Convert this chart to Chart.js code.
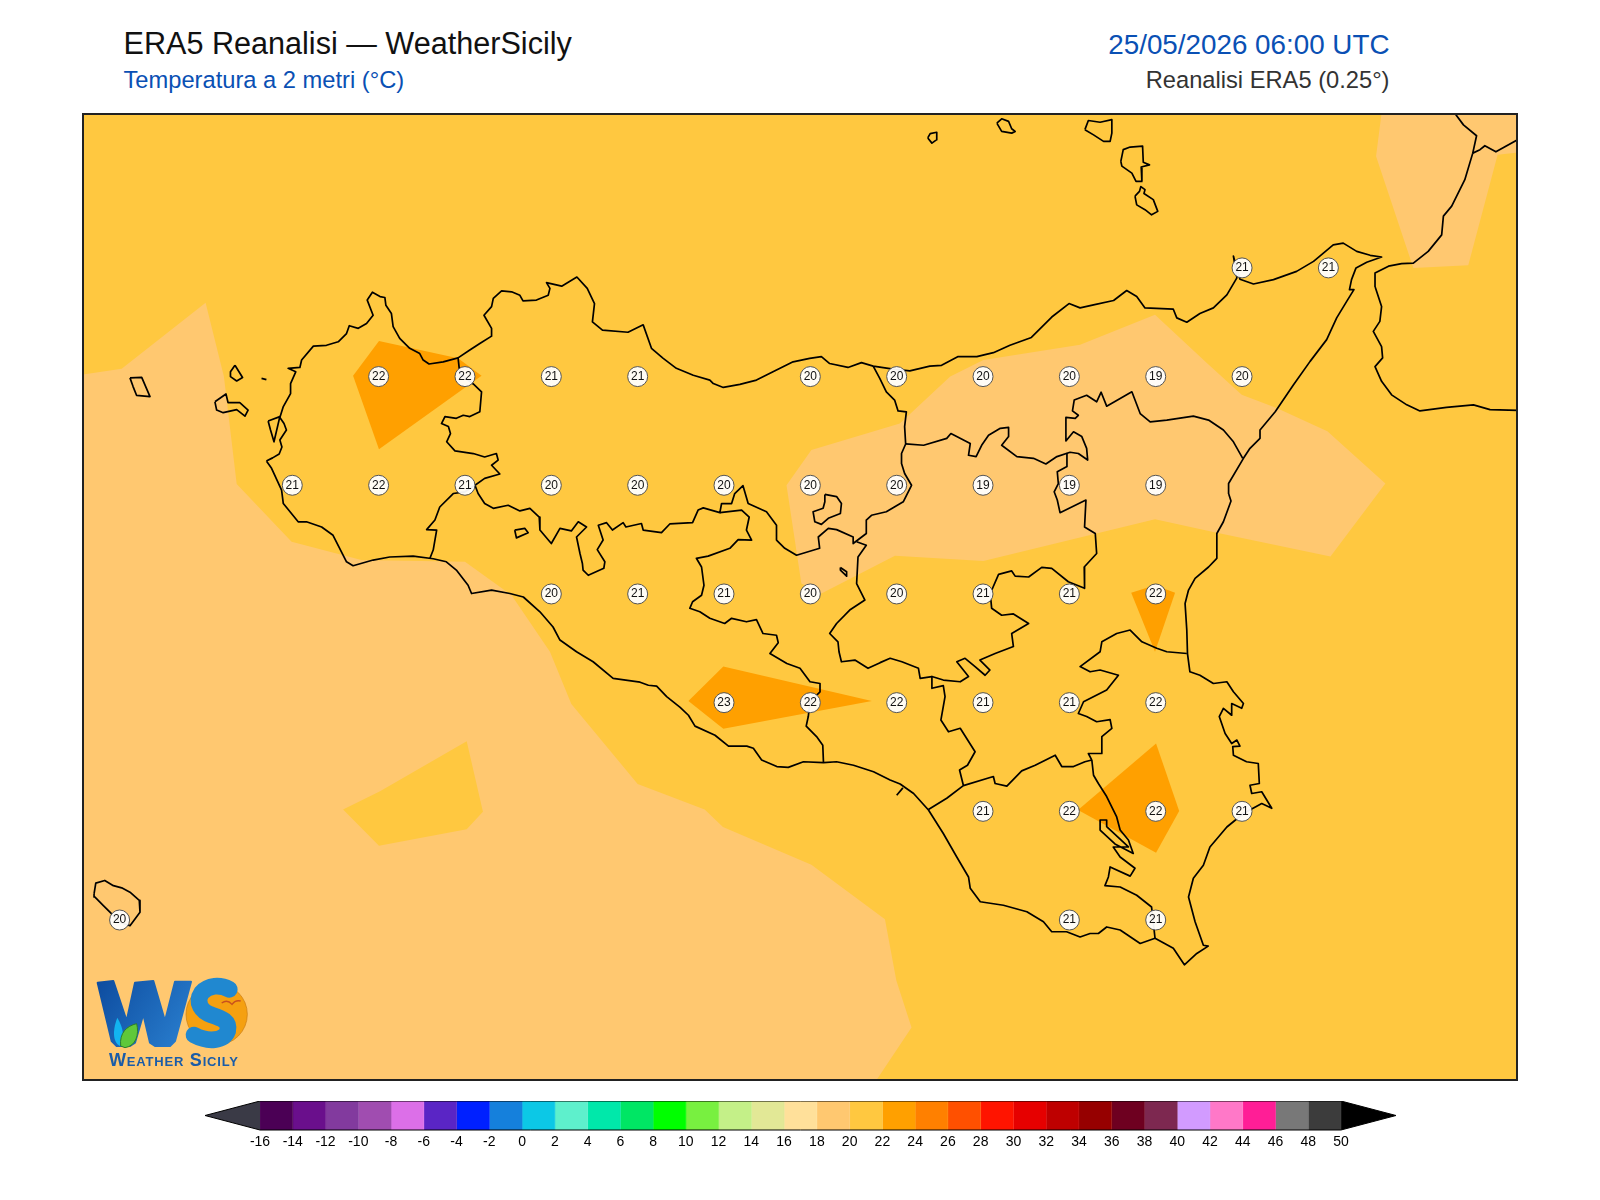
<!DOCTYPE html>
<html lang="it">
<head>
<meta charset="utf-8">
<title>ERA5 Reanalisi — WeatherSicily</title>
<script src="https://cdn.jsdelivr.net/npm/chart.js@4"></script>
<style>
  html, body { margin: 0; padding: 0; background: #fff; width: 1600px; height: 1200px; overflow: hidden; }
  body { font-family: "Liberation Sans", Arial, sans-serif; position: relative; }
  .txt { position: absolute; white-space: nowrap; line-height: 1; }
  #title { left: 123.5px; top: 28px; font-size: 30.6px; color: #111; }
  #subtitle { left: 123.5px; top: 69px; font-size: 23.7px; color: #0a50b4; }
  #date { right: 210.5px; top: 31px; font-size: 27.8px; color: #0a50b4; }
  #source { right: 210.5px; top: 69px; font-size: 23.7px; color: #333; }
  #map-wrap { position: absolute; left: 83px; top: 114px; width: 1435px; height: 966px; }
  #map-frame { position: absolute; left: 82px; top: 113px; width: 1436px; height: 968px; box-sizing: border-box; border: 2px solid #222; }
  #cbar-wrap { position: absolute; left: 205px; top: 1101px; width: 1191px; height: 59px; }
  #logo { position: absolute; left: 80px; top: 851px; width: 180px; height: 210px; }
  #logo-text { left: 109px; top: 1051px; font-size: 18px; letter-spacing: 0.8px; font-weight: bold; font-variant: small-caps; color: #1a5ca8; }
</style>
</head>
<body>
<div class="txt" id="title">ERA5 Reanalisi — WeatherSicily</div>
<div class="txt" id="subtitle">Temperatura a 2 metri (°C)</div>
<div class="txt" id="date">25/05/2026 06:00 UTC</div>
<div class="txt" id="source">Reanalisi ERA5 (0.25°)</div>

<div id="map-wrap"><canvas id="map" width="1435" height="966"></canvas></div>

<svg id="logo" viewBox="0 0 540 630">
  <defs>
    <linearGradient id="wGrad" gradientUnits="userSpaceOnUse" x1="55" y1="400" x2="335" y2="580">
      <stop offset="0" stop-color="#0e4da0"/>
      <stop offset="1" stop-color="#2a80d0"/>
    </linearGradient>
  </defs>
  <circle cx="410" cy="490" r="92" fill="#f5a010" stroke="#c87a10" stroke-width="2"/>
  <polygon points="53,395 100,390 140,510 165,395 220,390 255,510 285,392 333,392 285,570 270,585 225,585 210,575 190,490 165,575 150,585 110,585 95,570" fill="url(#wGrad)" stroke="url(#wGrad)" stroke-width="6" stroke-linejoin="round"/>
  <path d="M112 500 C130 530 135 560 122 585 C102 580 94 545 112 500 Z" fill="#12b4f0"/>
  <path d="M122 585 C118 545 140 525 170 518 C178 550 168 585 135 590 Z" fill="#5fc83a" stroke="#2f7d2a" stroke-width="3"/>
  <path d="M448 415 C420 400 385 402 365 425 C345 455 365 482 395 492 C425 502 450 510 443 540 C432 570 385 575 342 552" fill="none" stroke="#2088d0" stroke-width="50" stroke-linecap="round"/>
  <path d="M425 456 Q442 444 456 460 Q466 446 482 450" fill="none" stroke="#c8501e" stroke-width="4"/>
</svg>
<div class="txt" id="logo-text">Weather Sicily</div>
<div id="cbar-wrap"><canvas id="cbar" width="1191" height="59"></canvas></div>
<div id="map-frame"></div>

<script>
// Colorbar levels and colours (one colour per 2 degree bin)
const levels = [-16, -14, -12, -10, -8, -6, -4, -2, 0, 2, 4, 6, 8, 10, 12, 14, 16, 18, 20, 22, 24, 26, 28, 30, 32, 34, 36, 38, 40, 42, 44, 46, 48, 50];
const binColors = ['#4b0055', '#6a0f8c', '#823a9e', '#a04db0', '#dc6fe8', '#5a25c5', '#0020ff', '#1580dc', '#0cc8e6', '#5ef0cc', '#00e8aa', '#00e664', '#00ff00', '#78f040', '#c4f088', '#e2e896', '#ffe09a', '#ffc870', '#ffc840', '#ffa000', '#ff8000', '#ff5000', '#ff1400', '#e60000', '#be0000', '#960000', '#6e0020', '#7d2850', '#d29bff', '#ff78c8', '#ff1e96', '#787878', '#3c3c3c'];
const underColor = '#3a3a46';
const overColor = '#000000';
const underTip = -19.36;
const overTip = 53.36;

// Map extent in degrees
const lonMin = 11.894, lonMax = 16.049, latMin = 36.382, latMax = 38.604;

// ERA5 grid points with their temperature
const gridLon = [15.25, 15.5,
  12.75, 13, 13.25, 13.5, 14, 14.25, 14.5, 14.75, 15, 15.25,
  12.5, 12.75, 13, 13.25, 13.5, 13.75, 14, 14.25, 14.5, 14.75, 15,
  13.25, 13.5, 13.75, 14, 14.25, 14.5, 14.75, 15,
  13.75, 14, 14.25, 14.5, 14.75, 15,
  14.5, 14.75, 15, 15.25,
  12, 14.75, 15];
const gridLat = [38.25, 38.25,
  38, 38, 38, 38, 38, 38, 38, 38, 38, 38,
  37.75, 37.75, 37.75, 37.75, 37.75, 37.75, 37.75, 37.75, 37.75, 37.75, 37.75,
  37.5, 37.5, 37.5, 37.5, 37.5, 37.5, 37.5, 37.5,
  37.25, 37.25, 37.25, 37.25, 37.25, 37.25,
  37, 37, 37, 37,
  36.75, 36.75, 36.75];
const gridTemp = [21, 21,
  22, 22, 21, 21, 20, 20, 20, 20, 19, 20,
  21, 22, 21, 20, 20, 20, 20, 20, 19, 19, 19,
  20, 21, 21, 20, 20, 21, 21, 22,
  23, 22, 22, 21, 21, 22,
  21, 22, 22, 21,
  20, 21, 21];

// Filled contours [lon, lat], each named after the bin it belongs to
const contourBase20 = [[11.8, 36.3], [16.1, 36.3], [16.1, 38.7], [11.8, 38.7]];
const contourSouthWest18 = [[11.85, 38.0], [12.006, 38.018], [12.249, 38.17], [12.302, 38.0], [12.339, 37.753], [12.498, 37.62], [12.7, 37.578], [13.0, 37.574], [13.135, 37.497], [13.246, 37.367], [13.308, 37.247], [13.5, 37.063], [13.694, 37.004], [13.747, 36.964], [14.003, 36.877], [14.216, 36.752], [14.249, 36.611], [14.293, 36.503], [14.19, 36.38], [14.15, 36.33], [11.85, 36.33]];
const contourCentral18 = [[13.931, 37.75], [14.003, 37.831], [14.259, 37.892], [14.405, 38.0], [14.501, 38.038], [14.781, 38.073], [14.998, 38.142], [15.148, 38.031], [15.249, 37.958], [15.35, 37.928], [15.497, 37.874], [15.665, 37.754], [15.506, 37.586], [15.177, 37.641], [14.998, 37.672], [14.501, 37.576], [14.245, 37.588], [14.032, 37.501], [13.974, 37.524]];
const contourNorthEast18 = [[15.661, 38.65], [16.1, 38.65], [16.1, 38.52], [15.99, 38.51], [15.905, 38.256], [15.746, 38.25], [15.638, 38.507]];
const contourSea20 = [[12.647, 37.004], [12.754, 37.046], [13.005, 37.161], [13.052, 36.999], [13.005, 36.959], [12.751, 36.921]];
const contourTrapani22 = [[12.751, 38.082], [12.98, 38.042], [13.048, 38.002], [12.751, 37.833], [12.676, 38.002]];
const contourAgrigento22 = [[13.748, 37.333], [14.178, 37.254], [13.748, 37.19], [13.647, 37.254]];
const contourCatania22 = [[14.929, 37.503], [14.998, 37.52], [15.056, 37.503], [14.998, 37.367]];
const contourSiracusa22 = [[15.001, 37.156], [15.068, 37.001], [15.001, 36.905], [14.775, 37.003]];

// Sicily coastline, clockwise from the western tip
const coastSicily = [[12.425, 37.806], [12.443, 37.813], [12.462, 37.822], [12.47, 37.838], [12.464, 37.854], [12.483, 37.877], [12.476, 37.892], [12.464, 37.906], [12.474, 37.931], [12.495, 37.961], [12.495, 37.984], [12.51, 38.011], [12.488, 38.019], [12.522, 38.021], [12.527, 38.038], [12.561, 38.07], [12.599, 38.072], [12.633, 38.08], [12.657, 38.099], [12.665, 38.117], [12.691, 38.111], [12.715, 38.122], [12.734, 38.141], [12.717, 38.176], [12.732, 38.194], [12.754, 38.184], [12.768, 38.182], [12.771, 38.164], [12.787, 38.145], [12.792, 38.115], [12.811, 38.088], [12.84, 38.065], [12.869, 38.053], [12.879, 38.038], [12.896, 38.029], [12.937, 38.034], [12.98, 38.043], [13.014, 38.061], [13.043, 38.076], [13.077, 38.093], [13.077, 38.111], [13.055, 38.141], [13.077, 38.161], [13.082, 38.18], [13.106, 38.197], [13.135, 38.195], [13.159, 38.187], [13.168, 38.174], [13.207, 38.176], [13.241, 38.187], [13.246, 38.203], [13.236, 38.216],
  [13.28, 38.208], [13.324, 38.229], [13.354, 38.203], [13.375, 38.168], [13.369, 38.126], [13.398, 38.107], [13.472, 38.102], [13.516, 38.119], [13.54, 38.065], [13.574, 38.042], [13.612, 38.019], [13.661, 38.003], [13.709, 37.992], [13.719, 37.984], [13.748, 37.975], [13.796, 37.982], [13.844, 37.992], [13.902, 38.015], [13.95, 38.034], [13.998, 38.042], [14.032, 38.046], [14.056, 38.03], [14.109, 38.021], [14.148, 38.032], [14.182, 38.024], [14.24, 38.017], [14.288, 38.013], [14.346, 38.024], [14.38, 38.026], [14.428, 38.046], [14.482, 38.046], [14.53, 38.055], [14.578, 38.072], [14.64, 38.09], [14.699, 38.137], [14.749, 38.168],
  [14.781, 38.158], [14.82, 38.165], [14.878, 38.175], [14.916, 38.198], [14.945, 38.184], [14.969, 38.158], [15.051, 38.155], [15.061, 38.135], [15.09, 38.125], [15.128, 38.145], [15.167, 38.158], [15.206, 38.188], [15.235, 38.227], [15.225, 38.277], [15.244, 38.224], [15.283, 38.213], [15.341, 38.223], [15.408, 38.242], [15.457, 38.265], [15.514, 38.303], [15.543, 38.307], [15.582, 38.288], [15.621, 38.279], [15.654, 38.275], [15.611, 38.263], [15.58, 38.25], [15.567, 38.223], [15.561, 38.2], [15.574, 38.2], [15.553, 38.173], [15.524, 38.135], [15.495, 38.085], [15.447, 38.035], [15.399, 37.981], [15.346, 37.919], [15.302, 37.877], [15.302, 37.858], [15.273, 37.835], [15.254, 37.812], [15.211, 37.754], [15.211, 37.731], [15.218, 37.714], [15.196, 37.666], [15.177, 37.639], [15.177, 37.582], [15.153, 37.562], [15.114, 37.536], [15.095, 37.509], [15.085, 37.478], [15.09, 37.417], [15.092, 37.363],
  [15.099, 37.321], [15.128, 37.313], [15.167, 37.294], [15.206, 37.298], [15.225, 37.275], [15.254, 37.248], [15.249, 37.237], [15.22, 37.248], [15.22, 37.221], [15.196, 37.237], [15.184, 37.218], [15.201, 37.179], [15.22, 37.156], [15.235, 37.164], [15.244, 37.15], [15.223, 37.149], [15.225, 37.129], [15.263, 37.114], [15.297, 37.11], [15.3, 37.064], [15.273, 37.06], [15.278, 37.041], [15.307, 37.045], [15.336, 37.007], [15.307, 37.018], [15.254, 36.995], [15.206, 36.964], [15.157, 36.918], [15.138, 36.876], [15.109, 36.846], [15.095, 36.803], [15.114, 36.746], [15.138, 36.692], [15.152, 36.69], [15.119, 36.673], [15.083, 36.647], [15.051, 36.685], [14.998, 36.708], [14.955, 36.696], [14.897, 36.727], [14.858, 36.734], [14.834, 36.719], [14.81, 36.719], [14.781, 36.711], [14.742, 36.723], [14.699, 36.723], [14.675, 36.746], [14.627, 36.769], [14.559, 36.784], [14.492, 36.792], [14.463, 36.823], [14.458, 36.849], [14.424, 36.895], [14.385, 36.949], [14.342, 37.003], [14.299, 37.041], [14.26, 37.063], [14.231, 37.072], [14.183, 37.091], [14.125, 37.106], [14.076, 37.114], [14.038, 37.112], [13.98, 37.114], [13.936, 37.101], [13.903, 37.103], [13.859, 37.118], [13.835, 37.145], [13.816, 37.15], [13.763, 37.15], [13.724, 37.175], [13.666, 37.196], [13.647, 37.221], [13.623, 37.239], [13.584, 37.264], [13.555, 37.288], [13.531, 37.29], [13.507, 37.297],
  [13.429, 37.306], [13.371, 37.344], [13.323, 37.367], [13.275, 37.394], [13.255, 37.424], [13.217, 37.459], [13.169, 37.493], [13.13, 37.501], [13.077, 37.509], [13.019, 37.501], [13.009, 37.52], [12.975, 37.555], [12.946, 37.574], [12.908, 37.581], [12.85, 37.587], [12.782, 37.585], [12.734, 37.578], [12.676, 37.565], [12.657, 37.574], [12.618, 37.635], [12.585, 37.654], [12.541, 37.666], [12.517, 37.666], [12.474, 37.708], [12.469, 37.739], [12.44, 37.789], [12.425, 37.806]];
const coastStagnone = [[12.43, 37.898], [12.464, 37.908], [12.447, 37.85], [12.437, 37.877], [12.43, 37.898]];

// Calabria coast and the province line
const coastCalabria = [[15.862, 38.61], [15.891, 38.579], [15.929, 38.554], [15.918, 38.514], [15.895, 38.453], [15.857, 38.392], [15.833, 38.369], [15.828, 38.326], [15.789, 38.288], [15.746, 38.261], [15.712, 38.26], [15.674, 38.254], [15.635, 38.238], [15.635, 38.207], [15.654, 38.161], [15.649, 38.127], [15.63, 38.104], [15.654, 38.069], [15.657, 38.043], [15.635, 38.023], [15.654, 37.989], [15.683, 37.958], [15.727, 37.935], [15.765, 37.921], [15.842, 37.929], [15.92, 37.935], [15.968, 37.924], [16.06, 37.922]];
const borderCalabria = [[15.918, 38.514], [15.939, 38.522], [15.953, 38.531], [15.985, 38.517], [16.06, 38.55]];

// Province borders
const borderTrapani = [[12.98, 38.043], [12.985, 38.007], [13.024, 37.983], [13.048, 37.965], [13.043, 37.919], [13.014, 37.908], [12.995, 37.911], [12.975, 37.904], [12.942, 37.908], [12.932, 37.892], [12.952, 37.885], [12.958, 37.869], [12.947, 37.85], [12.971, 37.829], [13.024, 37.823], [13.057, 37.815], [13.091, 37.823], [13.096, 37.808], [13.077, 37.796], [13.101, 37.776], [13.057, 37.766], [13.029, 37.75], [13.0, 37.735], [12.966, 37.731], [12.927, 37.7], [12.913, 37.67], [12.889, 37.648], [12.918, 37.647], [12.908, 37.601], [12.898, 37.581]];
const borderPalermoSouth = [[13.029, 37.75], [13.038, 37.731], [13.057, 37.708], [13.082, 37.697], [13.125, 37.704], [13.159, 37.691], [13.188, 37.697], [13.215, 37.677], [13.217, 37.647], [13.25, 37.616], [13.275, 37.651], [13.308, 37.645], [13.328, 37.666], [13.352, 37.654], [13.323, 37.631], [13.333, 37.593], [13.34, 37.57], [13.342, 37.555], [13.357, 37.543], [13.402, 37.559], [13.405, 37.574], [13.383, 37.602], [13.4, 37.624], [13.386, 37.658], [13.41, 37.664], [13.427, 37.647], [13.458, 37.664], [13.466, 37.654], [13.511, 37.662], [13.516, 37.647], [13.569, 37.641], [13.593, 37.661], [13.659, 37.664], [13.675, 37.693], [13.69, 37.698], [13.738, 37.687], [13.743, 37.708], [13.772, 37.708], [13.781, 37.731], [13.805, 37.749], [13.82, 37.708], [13.873, 37.689], [13.902, 37.658], [13.902, 37.624], [13.926, 37.605], [13.96, 37.589], [14.027, 37.605], [14.023, 37.631], [14.052, 37.651], [14.076, 37.648], [14.124, 37.631], [14.124, 37.616], [14.162, 37.639], [14.162, 37.67], [14.177, 37.681], [14.22, 37.689], [14.269, 37.712], [14.293, 37.75], [14.273, 37.777], [14.264, 37.8], [14.264, 37.823], [14.276, 37.845], [14.273, 37.885], [14.278, 37.919], [14.254, 37.921], [14.244, 37.946], [14.22, 37.965], [14.201, 37.996], [14.182, 38.024]];
const borderMessina = [[14.276, 37.845], [14.328, 37.842], [14.395, 37.858], [14.407, 37.869], [14.463, 37.846], [14.458, 37.819], [14.48, 37.816], [14.496, 37.842], [14.516, 37.865], [14.55, 37.881], [14.574, 37.883], [14.574, 37.862], [14.554, 37.842], [14.598, 37.816], [14.646, 37.812], [14.682, 37.799], [14.714, 37.816], [14.752, 37.826], [14.776, 37.823], [14.803, 37.808], [14.8, 37.835], [14.786, 37.862], [14.762, 37.873], [14.74, 37.852], [14.74, 37.906], [14.767, 37.904], [14.776, 37.911], [14.759, 37.921], [14.764, 37.946], [14.8, 37.957], [14.829, 37.942], [14.842, 37.964], [14.858, 37.932], [14.931, 37.965], [14.955, 37.915], [14.984, 37.896], [15.032, 37.9], [15.109, 37.909], [15.153, 37.9], [15.196, 37.877], [15.225, 37.85], [15.252, 37.812]];
const borderEnnaEast = [[14.743, 37.823], [14.743, 37.793], [14.715, 37.781], [14.718, 37.754], [14.706, 37.735], [14.715, 37.716], [14.723, 37.687], [14.798, 37.716], [14.794, 37.654], [14.825, 37.639], [14.829, 37.593], [14.793, 37.562], [14.794, 37.513], [14.747, 37.528], [14.699, 37.559], [14.67, 37.561], [14.632, 37.539], [14.593, 37.541], [14.583, 37.553], [14.545, 37.545], [14.521, 37.501], [14.525, 37.467], [14.554, 37.451], [14.588, 37.454], [14.632, 37.432], [14.583, 37.409], [14.588, 37.379], [14.535, 37.363], [14.491, 37.348], [14.52, 37.325], [14.506, 37.313], [14.477, 37.333], [14.448, 37.352], [14.424, 37.344], [14.458, 37.31], [14.434, 37.298], [14.385, 37.302], [14.352, 37.31], [14.318, 37.306], [14.313, 37.329], [14.265, 37.344], [14.231, 37.352], [14.202, 37.342], [14.167, 37.329], [14.129, 37.348], [14.09, 37.344], [14.083, 37.367], [14.08, 37.39], [14.056, 37.409], [14.076, 37.432], [14.114, 37.463], [14.158, 37.486], [14.134, 37.524], [14.138, 37.585], [14.162, 37.612], [14.134, 37.62]];
const borderAgrigento = [[13.738, 37.687], [13.801, 37.693], [13.823, 37.677], [13.815, 37.647], [13.83, 37.624], [13.791, 37.625], [13.767, 37.605], [13.704, 37.587], [13.67, 37.582], [13.685, 37.562], [13.692, 37.52], [13.685, 37.497], [13.659, 37.482], [13.651, 37.467], [13.68, 37.459], [13.709, 37.444], [13.752, 37.432], [13.772, 37.444], [13.815, 37.436], [13.844, 37.441], [13.863, 37.409], [13.902, 37.405], [13.907, 37.388], [13.883, 37.363], [13.932, 37.34], [13.97, 37.329], [13.999, 37.298], [14.028, 37.294], [14.028, 37.275], [13.999, 37.252], [13.994, 37.218], [13.988, 37.196], [14.018, 37.172], [14.036, 37.152], [14.038, 37.112]];
const borderRagusaNorth = [[14.342, 37.004], [14.395, 37.03], [14.443, 37.059], [14.53, 37.08], [14.535, 37.064], [14.569, 37.058], [14.612, 37.093], [14.651, 37.106], [14.709, 37.129], [14.728, 37.103], [14.762, 37.103], [14.795, 37.114], [14.815, 37.118]];
const borderRagusaEast = [[14.815, 37.118], [14.82, 37.083], [14.834, 37.064], [14.858, 37.034], [14.887, 36.987], [14.897, 36.957], [14.921, 36.934], [14.935, 36.903], [14.882, 36.925], [14.839, 36.957], [14.839, 36.98], [14.858, 36.98], [14.858, 36.965], [14.921, 36.918], [14.877, 36.918], [14.897, 36.895], [14.94, 36.869], [14.926, 36.851], [14.868, 36.872], [14.863, 36.849], [14.853, 36.829], [14.897, 36.826], [14.945, 36.807], [14.988, 36.78], [14.998, 36.708]];
const borderCataniaSouth = [[14.815, 37.118], [14.805, 37.133], [14.844, 37.133], [14.844, 37.172], [14.873, 37.191], [14.868, 37.211], [14.829, 37.206], [14.8, 37.218], [14.776, 37.225], [14.791, 37.252], [14.858, 37.279], [14.892, 37.313], [14.839, 37.325], [14.81, 37.321], [14.781, 37.333], [14.839, 37.367], [14.844, 37.39], [14.887, 37.409], [14.926, 37.417], [14.96, 37.39], [15.003, 37.375], [15.032, 37.367], [15.09, 37.363]];
const borderGela = [[14.352, 37.31], [14.352, 37.283], [14.385, 37.289], [14.39, 37.264], [14.378, 37.21], [14.4, 37.183], [14.434, 37.191], [14.477, 37.137], [14.455, 37.106], [14.432, 37.095], [14.443, 37.06]];
const borderCoastTick = [[14.25, 37.037], [14.268, 37.054]];

// Enclaves and lakes
const enclaveWest = [[13.144, 37.647], [13.173, 37.651], [13.183, 37.641], [13.149, 37.629], [13.144, 37.647]];
const enclaveNicosia = [[14.042, 37.729], [14.076, 37.724], [14.09, 37.708], [14.087, 37.685], [14.052, 37.674], [14.032, 37.66], [14.013, 37.666], [14.008, 37.689], [14.037, 37.697], [14.042, 37.712], [14.042, 37.729]];
const lakePergusa = [[14.087, 37.561], [14.105, 37.551], [14.105, 37.541], [14.087, 37.555], [14.087, 37.561]];

// Islands
const isleLevanzo = [[12.334, 38.026], [12.356, 37.998], [12.339, 37.99], [12.321, 38.0], [12.321, 38.011], [12.334, 38.026]];
const isleFavignana = [[12.276, 37.942], [12.308, 37.96], [12.314, 37.94], [12.348, 37.94], [12.372, 37.923], [12.363, 37.909], [12.339, 37.924], [12.3, 37.917], [12.281, 37.923], [12.276, 37.942]];
const isleMarettimo = [[12.03, 37.997], [12.064, 37.998], [12.088, 37.954], [12.049, 37.957], [12.039, 37.977], [12.03, 37.997]];
const isleFormica = [[12.411, 37.996], [12.425, 37.993]];
const islePantelleria = [[11.926, 36.81], [11.931, 36.835], [11.957, 36.841], [11.982, 36.829], [12.006, 36.824], [12.03, 36.814], [12.057, 36.795], [12.059, 36.768], [12.03, 36.737], [12.0, 36.745], [11.972, 36.768], [11.953, 36.783], [11.928, 36.803], [11.926, 36.81]];
const isleAlicudi = [[14.34, 38.549], [14.347, 38.559], [14.366, 38.562], [14.366, 38.545], [14.352, 38.537], [14.34, 38.549]];
const isleFilicudi = [[14.54, 38.583], [14.554, 38.593], [14.574, 38.587], [14.583, 38.57], [14.593, 38.564], [14.583, 38.56], [14.554, 38.564], [14.54, 38.583]];
const isleSalina = [[14.795, 38.568], [14.805, 38.589], [14.839, 38.585], [14.873, 38.591], [14.873, 38.56], [14.868, 38.541], [14.849, 38.541], [14.82, 38.556], [14.795, 38.568]];
const isleLipari = [[14.899, 38.495], [14.906, 38.522], [14.926, 38.528], [14.962, 38.53], [14.964, 38.493], [14.982, 38.487], [14.958, 38.482], [14.96, 38.449], [14.943, 38.449], [14.931, 38.468], [14.902, 38.484], [14.899, 38.495]];
const isleVulcano = [[14.94, 38.415], [14.953, 38.426], [14.957, 38.437], [14.969, 38.43], [14.966, 38.421], [14.993, 38.407], [15.006, 38.38], [14.988, 38.372], [14.969, 38.384], [14.945, 38.395], [14.94, 38.415]];

const toXY = (pts) => pts.map(([x, y]) => ({ x, y }));

function binColor(level) {
  return binColors[levels.indexOf(level)];
}

function fillDataset(pts, color) {
  return {
    data: toXY(pts),
    showLine: true,
    fill: 'shape',
    tension: 0,
    backgroundColor: color,
    borderColor: color,
    borderWidth: 0,
    pointRadius: 0,
  };
}

function lineDataset(pts) {
  return {
    data: toXY(pts),
    showLine: true,
    fill: false,
    tension: 0,
    borderColor: '#000',
    borderWidth: 1.7,
    borderJoinStyle: 'round',
    pointRadius: 0,
  };
}

const outlines = [coastSicily, coastStagnone, coastCalabria, borderCalabria,
  borderTrapani, borderPalermoSouth, borderMessina, borderEnnaEast, borderAgrigento,
  borderRagusaNorth, borderRagusaEast, borderCataniaSouth, borderGela, borderCoastTick,
  enclaveWest, enclaveNicosia, lakePergusa,
  isleLevanzo, isleFavignana, isleMarettimo, isleFormica, islePantelleria,
  isleAlicudi, isleFilicudi, isleSalina, isleLipari, isleVulcano];

// Paint order: first in the list is painted first
const mapDatasets = [
  fillDataset(contourBase20, binColor(20)),
  fillDataset(contourSouthWest18, binColor(18)),
  fillDataset(contourCentral18, binColor(18)),
  fillDataset(contourNorthEast18, binColor(18)),
  fillDataset(contourSea20, binColor(20)),
  fillDataset(contourTrapani22, binColor(22)),
  fillDataset(contourAgrigento22, binColor(22)),
  fillDataset(contourCatania22, binColor(22)),
  fillDataset(contourSiracusa22, binColor(22)),
  ...outlines.map(lineDataset),
  {
    data: gridLon.map((lon, i) => ({ x: lon, y: gridLat[i] })),
    showLine: false,
    pointRadius: 10,
    pointBackgroundColor: 'rgba(255, 255, 255, 0.94)',
    pointBorderColor: '#555',
    pointBorderWidth: 1,
    clip: false,
  },
];
mapDatasets.forEach((d, i) => { d.order = mapDatasets.length - i; });
const gridIndex = mapDatasets.length - 1;

// Writes the temperature in each grid circle
const gridValues = {
  id: 'gridValues',
  afterDatasetsDraw(chart) {
    const { ctx } = chart;
    ctx.save();
    ctx.font = '12px "Liberation Sans", Arial, sans-serif';
    ctx.fillStyle = '#111';
    ctx.textAlign = 'center';
    ctx.textBaseline = 'middle';
    chart.getDatasetMeta(gridIndex).data.forEach((pt, i) => {
      ctx.fillText(String(gridTemp[i]), pt.x, pt.y);
    });
    ctx.restore();
  },
};

new Chart(document.getElementById('map'), {
  type: 'scatter',
  data: { datasets: mapDatasets },
  options: {
    responsive: false,
    animation: false,
    devicePixelRatio: 1,
    layout: { padding: 0, autoPadding: false },
    plugins: { legend: { display: false }, tooltip: { enabled: false } },
    scales: {
      x: { type: 'linear', min: lonMin, max: lonMax, display: false },
      y: { type: 'linear', min: latMin, max: latMax, display: false },
    },
  },
  plugins: [gridValues],
});

// Colorbar: one closed cell per bin, plus the two end triangles
const first = levels[0];
const last = levels[levels.length - 1];
const cbarDatasets = binColors.map((color, i) => {
  const a = levels[i], b = levels[i + 1];
  const ds = fillDataset([[a, 0], [b, 0], [b, 1], [a, 1]], color);
  ds.borderWidth = 0.6;
  return ds;
});
cbarDatasets.push(fillDataset([[first, 0], [first, 1], [underTip, 0.5]], underColor));
cbarDatasets.push(fillDataset([[last, 0], [last, 1], [overTip, 0.5]], overColor));
const cbarOutline = lineDataset([[underTip, 0.5], [first, 1], [last, 1], [overTip, 0.5], [last, 0], [first, 0], [underTip, 0.5]]);
cbarOutline.borderWidth = 1;
cbarOutline.clip = false;
cbarDatasets.unshift(cbarOutline);

new Chart(document.getElementById('cbar'), {
  type: 'scatter',
  data: { datasets: cbarDatasets },
  options: {
    responsive: false,
    animation: false,
    devicePixelRatio: 1,
    layout: { padding: 0, autoPadding: false },
    plugins: { legend: { display: false }, tooltip: { enabled: false } },
    scales: {
      x: {
        type: 'linear',
        min: underTip,
        max: overTip,
        grid: { display: false, drawTicks: false },
        border: { display: false },
        afterBuildTicks: (axis) => { axis.ticks = levels.map((value) => ({ value })); },
        afterFit: (axis) => { axis.height = 30; },
        ticks: {
          autoSkip: false,
          maxRotation: 0,
          padding: 4,
          color: '#000',
          font: { family: '"Liberation Sans", Arial, sans-serif', size: 14 },
          callback: (v) => String(v),
        },
      },
      y: { type: 'linear', min: 0, max: 1, display: false },
    },
  },
});
</script>
</body>
</html>
